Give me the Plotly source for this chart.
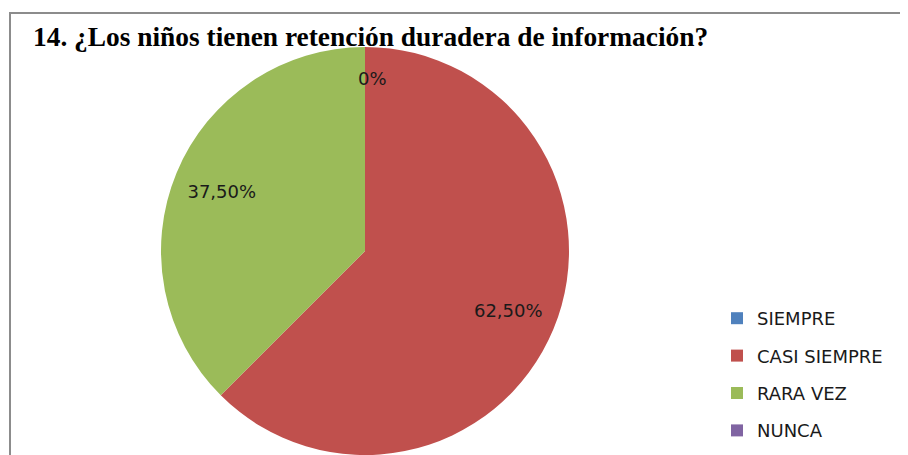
import plotly.graph_objects as go

categories = ["SIEMPRE", "CASI SIEMPRE", "RARA VEZ", "NUNCA"]
values = [0, 62.5, 37.5, 0]
slice_text = ["0%", "62,50%", "37,50%", ""]
colors = ["#4F81BD", "#C0504D", "#9BBB59", "#8064A2"]
title_text = "14. ¿Los niños tienen retención duradera de información?"

# the page body has an 8px margin, so the figure is 8px smaller and all positions shifted
W, H = 900, 447
pie_domain = dict(x=[151 / W, 563 / W], y=[0.0, 408 / H])

fig = go.Figure()
# coloured pie
fig.add_trace(go.Pie(
    labels=categories, values=values,
    textinfo="none",
    sort=False, direction="clockwise", rotation=0,
    marker=dict(colors=colors, line=dict(width=0)),
    showlegend=False, hoverinfo="label+percent",
    domain=pie_domain,
))
# transparent ring on top that carries the percentage labels (placed like the original)
fig.add_trace(go.Pie(
    labels=categories, values=values,
    text=slice_text, textinfo="text", textposition="inside",
    insidetextorientation="horizontal",
    sort=False, direction="clockwise", rotation=0, hole=0.52,
    marker=dict(colors=["rgba(0,0,0,0)"] * 4, line=dict(width=0)),
    textfont=dict(family="DejaVu Sans", size=18, color="#1a1a1a"),
    showlegend=False, hoverinfo="skip",
    domain=pie_domain,
))

# legend entries (one group each so they can be spaced like the original)
for i, (cat, col) in enumerate(zip(categories, colors)):
    fig.add_trace(go.Scatter(
        x=[None], y=[None], mode="markers", name=cat,
        marker=dict(symbol="square", size=12, color=col),
        legendgroup=f"g{i}", showlegend=True,
    ))

# zero-value slice label
fig.add_annotation(text=slice_text[0], x=364 / W, y=1 - 70 / H, xref="paper", yref="paper",
                   xanchor="center", yanchor="middle", showarrow=False,
                   font=dict(family="DejaVu Sans", size=18, color="#1a1a1a"))

fig.add_shape(type="rect", xref="paper", yref="paper",
              x0=2 / W, x1=1.02, y0=-0.02, y1=1 - 5 / H,
              line=dict(color="#8C8C8C", width=2), fillcolor="rgba(0,0,0,0)", layer="below")

fig.update_layout(
    width=W, height=H,
    margin=dict(l=0, r=0, t=0, b=0),
    paper_bgcolor="white", plot_bgcolor="white",
    title=dict(text=f"<b>{title_text}</b>", x=25 / W, xanchor="left", y=1 - 28 / H, yanchor="middle",
               xref="paper", yref="paper",
               font=dict(family="Liberation Serif", size=27.4, color="#000000")),
    xaxis=dict(visible=False), yaxis=dict(visible=False),
    legend=dict(x=709 / W, xanchor="left", y=1 - 292 / H, yanchor="top",
                font=dict(family="DejaVu Sans", size=18, color="#1a1a1a"),
                tracegroupgap=11, bgcolor="rgba(0,0,0,0)"),
)

fig.write_html("out.html")
